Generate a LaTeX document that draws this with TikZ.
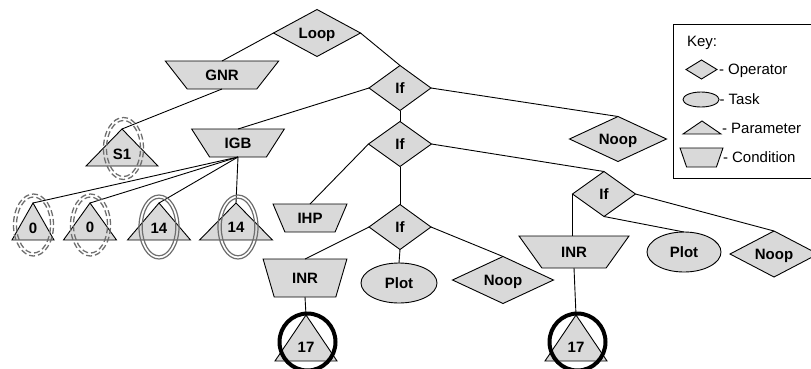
\documentclass[tikz,border=0pt]{standalone}
\usepackage{fontspec}
\setmainfont{Liberation Sans}
\usetikzlibrary{shapes.geometric}

\definecolor{shapefill}{RGB}{217,217,217}
\definecolor{ringgray}{RGB}{110,110,110}

\begin{document}
\begin{tikzpicture}[x=1pt,y=-1pt,
  every node/.style={inner sep=0pt, outer sep=0pt,
    font=\fontsize{15}{17}\selectfont\bfseries,
    text height=10.7pt, text depth=0pt},
  base/.style={draw=black, fill=shapefill, line width=0.9pt},
  oper/.style={base, diamond, aspect=2},
  task/.style={base, ellipse},
  cond/.style={base, trapezium, trapezium stretches=true, shape border rotate=180},
  param/.style={base, isosceles triangle, isosceles triangle stretches=true,
    shape border rotate=90},
  icon/.style={text height=0pt, text depth=0pt},
  keytext/.style={font=\fontsize{15}{17}\selectfont, anchor=west},
  link/.style={draw=black, line width=0.9pt},
  dashring/.style={draw=ringgray, line width=1.3pt, dash pattern=on 6pt off 3pt},
  solidring/.style={draw=ringgray, line width=1.2pt},
  boldring/.style={draw=black, line width=4pt}
]
\useasboundingbox (0,0) rectangle (811,368);
\clip (0,0) rectangle (811,368);

% operators
\node[oper, minimum width=87pt, minimum height=47pt] (loop) at (317,33) {Loop};
\node[oper, minimum width=62pt, minimum height=45pt] (if1) at (400,88) {If};
\node[oper, minimum width=63pt, minimum height=45pt] (if2) at (400,144) {If};
\node[oper, minimum width=62pt, minimum height=45pt] (if3) at (400,227) {If};
\node[oper, minimum width=63pt, minimum height=45pt] (if4) at (604,194) {If};
\node[oper, minimum width=97pt, minimum height=45pt] (noop1) at (618,139) {Noop};
\node[oper, minimum width=101pt, minimum height=47pt] (noop2) at (503,280) {Noop};
\node[oper, minimum width=88pt, minimum height=46pt] (noop3) at (774,254) {Noop};

% conditions
\node[cond, trapezium left angle=45.5, trapezium right angle=45.5,
  minimum width=114pt, minimum height=28pt] (gnr) at (222,75) {GNR};
\node[cond, trapezium left angle=51.8, trapezium right angle=51.8,
  minimum width=93pt, minimum height=28pt] (igb) at (238,143) {IGB};
\node[cond, trapezium left angle=61, trapezium right angle=61,
  minimum width=74pt, minimum height=28pt] (ihp) at (310,218) {IHP};
\node[cond, trapezium left angle=66.5, trapezium right angle=66.5,
  minimum width=84pt, minimum height=38pt] (inr1) at (305,278) {INR};
\node[cond, trapezium left angle=49.3, trapezium right angle=49.3,
  minimum width=110pt, minimum height=32pt] (inr2) at (574,252) {INR};

% tasks
\node[task, minimum width=76pt, minimum height=40pt] (plot1) at (399,283) {Plot};
\node[task, minimum width=74pt, minimum height=40pt] (plot2) at (684,252) {Plot};

% parameters
\node[param, minimum width=72pt, minimum height=37pt, anchor=apex] (s1) at (122,129) {S1};
\node[param, minimum width=42pt, minimum height=37pt, anchor=apex] (p0a) at (33,203) {0};
\node[param, minimum width=53pt, minimum height=37pt, anchor=apex] (p0b) at (90,203) {0};
\node[param, minimum width=63pt, minimum height=37pt, anchor=apex] (p14a) at (159,203) {14};
\node[param, minimum width=73pt, minimum height=37pt, anchor=apex] (p14b) at (236,203) {14};
\node[param, minimum width=62pt, minimum height=46pt, anchor=apex] (p17a) at (306,315) {17};
\node[param, minimum width=62pt, minimum height=46pt, anchor=apex] (p17b) at (576,315) {17};

% connectors
\draw[link] (loop.west) -- (gnr.north);
\draw[link] (loop.east) -- (if1.north);
\draw[link] (gnr.south) -- (s1.apex);
\draw[link] (if1.west) -- (igb.north);
\draw[link] (if1.south) -- (if2.north);
\draw[link] (if1.east) -- (noop1.north);
\foreach \p in {p0a,p0b,p14a,p14b}
  \draw[link] (igb.south) -- (\p.apex);
\draw[link] (if2.west) -- (ihp.north);
\draw[link] (if2.south) -- (if3.north);
\draw[link] (if2.east) -- (if4.north);
\draw[link] (if3.west) -- (inr1.north);
\draw[link] (if3.south) -- (plot1.north);
\draw[link] (if3.east) -- (noop2.north);
\draw[link] (inr1.south) -- (p17a.apex);
\draw[link] (if4.west) -- (inr2.north west -| if4.west);
\draw[link] (if4.south) -- (plot2.north);
\draw[link] (if4.east) -- (noop3.north);
\draw[link] (inr2.south) -- (p17b.apex);

% highlight rings
\foreach \x/\y in {123.5/148.5, 33.5/225, 90.5/225} {
  \draw[dashring] (\x,\y) ellipse [x radius=20pt, y radius=31pt];
  \draw[dashring] (\x,\y) ellipse [x radius=17pt, y radius=28pt];
}
\foreach \x/\y in {159/227, 238/227} {
  \draw[solidring] (\x,\y) ellipse [x radius=20pt, y radius=32pt];
  \draw[solidring] (\x,\y) ellipse [x radius=16.8pt, y radius=28.8pt];
}
\draw[boldring] (307.5,342) ellipse [x radius=28pt, y radius=28.5pt];
\draw[boldring] (577.5,342) ellipse [x radius=28pt, y radius=28.5pt];

% key
\draw[line width=0.9pt] (673,24) rectangle (815,178);
\node[keytext] (keytitle) at (687,41) {Key:};
\node[oper, icon, minimum width=31pt, minimum height=19pt] (keyop) at (701.5,69.5) {};
\node[keytext] (keyoptext) at (719,69.5) {- Operator};
\node[task, icon, minimum width=36pt, minimum height=15pt] (keytask) at (701,99.5) {};
\node[keytext] (keytasktext) at (719.5,99.5) {- Task};
\node[param, icon, minimum width=38pt, minimum height=13pt, anchor=apex] (keyparam) at (702,121) {};
\node[keytext] (keyparamtext) at (722,128.5) {- Parameter};
\node[cond, text height=5pt, trapezium left angle=62.2, trapezium right angle=62.2,
  minimum width=43pt, minimum height=19pt] (keycond) at (701.5,157.5) {\hspace*{12pt}};
\node[keytext] (keycondtext) at (723,157.5) {- Condition};
\end{tikzpicture}
\end{document}
